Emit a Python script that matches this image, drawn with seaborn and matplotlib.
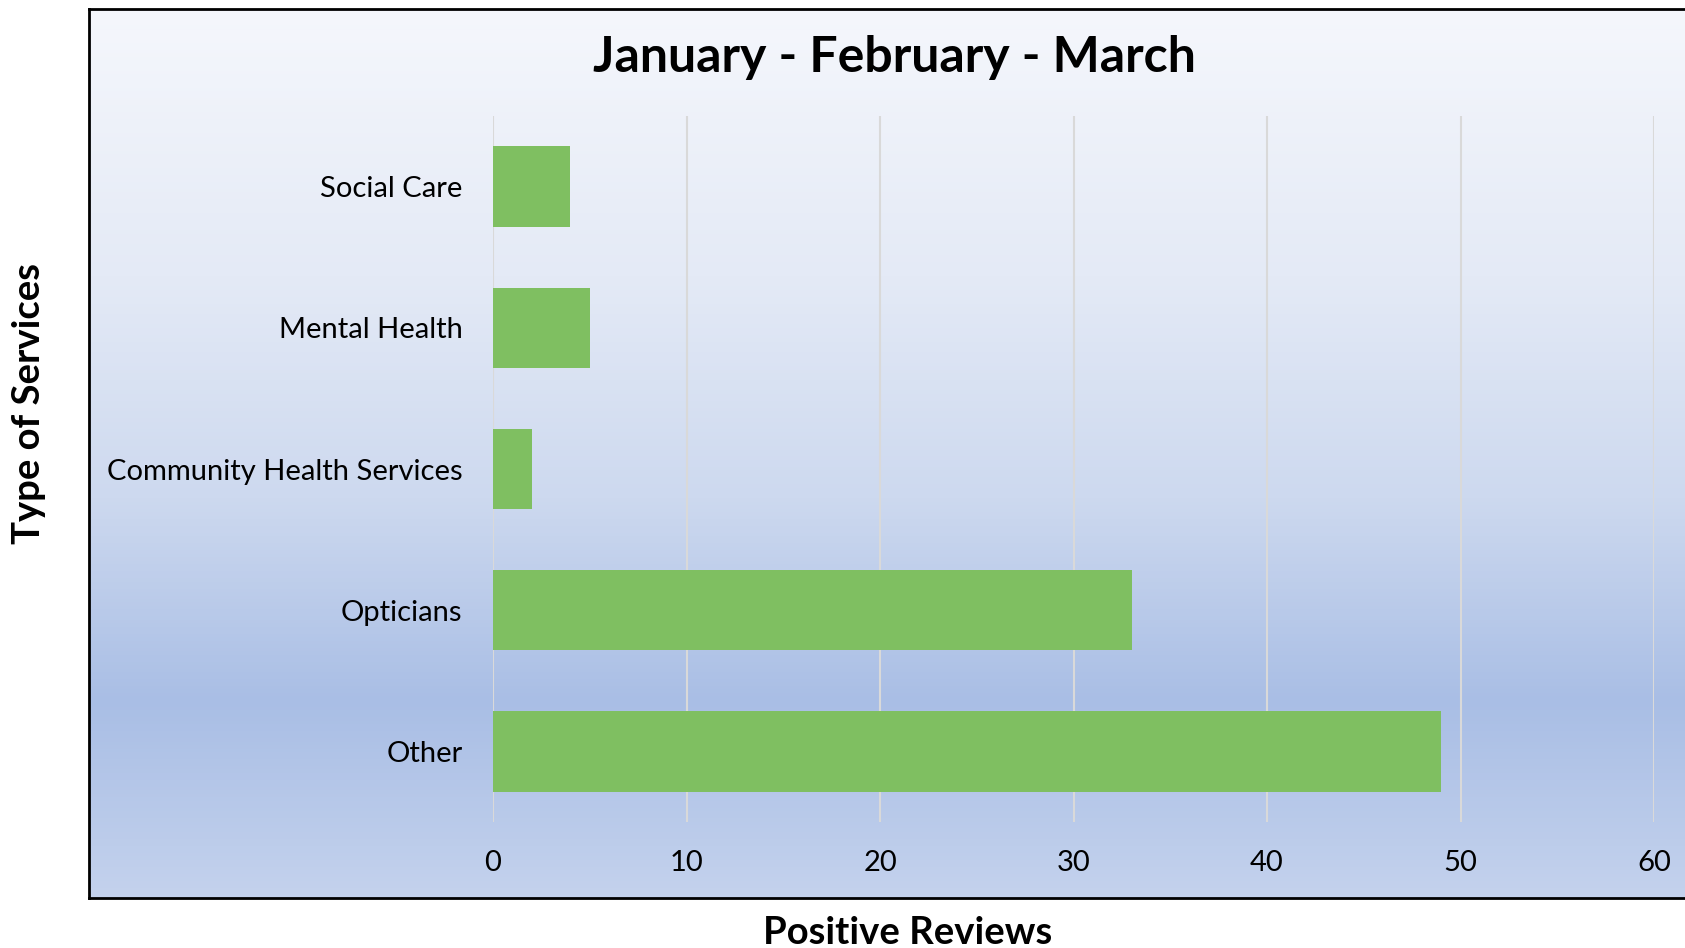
import numpy as np
import pandas as pd
import seaborn as sns
import matplotlib.pyplot as plt
from matplotlib.colors import LinearSegmentedColormap

# --- data ---
services = ['Social Care', 'Mental Health', 'Community Health Services', 'Opticians', 'Other']
positive_reviews = [4, 5, 2, 33, 49]
x_ticks = [0, 10, 20, 30, 40, 50, 60]

df = pd.DataFrame({'service': services, 'reviews': positive_reviews})

plt.rcParams['font.family'] = ['Lato', 'DejaVu Sans']

W, H = 1685, 948
fig = plt.figure(figsize=(W / 100, H / 100), dpi=100)

# --- gradient panel behind the chart (Excel style) ---
bg = fig.add_axes([89 / W, 1 - 898 / H, 1 - 89 / W + 0.01, (898 - 8.6) / H])
grad_cmap = LinearSegmentedColormap.from_list(
    'panel',
    [(0.0, '#F5F7FC'), (0.30, '#E4EAF6'), (0.55, '#CDD9EF'),
     (0.78, '#A9BEE5'), (1.0, '#C4D2ED')])
grad = np.linspace(0, 1, 256).reshape(-1, 1)
bg.imshow(grad, cmap=grad_cmap, aspect='auto', extent=[0, 1, 1, 0])
bg.set_xticks([])
bg.set_yticks([])
for side in ['left', 'top', 'bottom']:
    bg.spines[side].set_linewidth(2)
    bg.spines[side].set_color('black')
bg.spines['right'].set_visible(False)

# --- bars ---
ax = fig.add_axes([493 / W, 1 - 822 / H, (1654 - 493) / W, (822 - 116) / H])
ax.set_facecolor('none')
sns.barplot(data=df, x='reviews', y='service', orient='h', color='#7FBF61',
            width=0.57, saturation=1, ax=ax)

ax.set_xlim(0, 60)
ax.set_ylim(4.5, -0.5)
ax.set_xticks(x_ticks)
ax.xaxis.grid(True, color='#D9D9D9', linewidth=1.5)
ax.set_axisbelow(True)
for s in ax.spines.values():
    s.set_visible(False)
ax.tick_params(axis='both', length=0, labelsize=21, colors='black')
ax.tick_params(axis='y', pad=22)
ax.tick_params(axis='x', pad=20)
ax.set_xlabel('')
ax.set_ylabel('')

fig.text(894 / W, 1 - 58 / H, 'January - February - March', ha='center', va='center',
         fontsize=36, fontweight='bold')
fig.text(908 / W, 1 - 933 / H, 'Positive Reviews', ha='center', va='center',
         fontsize=27.5, fontweight='bold')
fig.text(29 / W, 1 - 403 / H, 'Type of Services', ha='center', va='center',
         rotation=90, fontsize=27.5, fontweight='bold')

fig.savefig('out.png', dpi=100)
